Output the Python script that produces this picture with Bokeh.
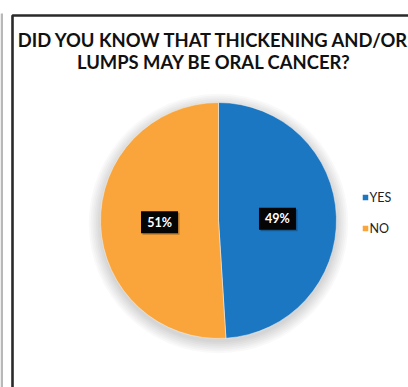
import math
from bokeh.plotting import figure
from bokeh.models import Range1d, ColumnDataSource
from bokeh.core.properties import value
from bokeh.embed import file_html
from bokeh.resources import INLINE

# Survey answers
categories = ["YES", "NO"]
percentages = [49, 51]
colors = ["#1C77C3", "#F9A53B"]
title_lines = ["DID YOU KNOW THAT THICKENING AND/OR", "LUMPS MAY BE ORAL CANCER?"]

W, H = 408, 387
p = figure(width=W, height=H, output_backend="svg", toolbar_location=None,
           x_range=Range1d(0, W), y_range=Range1d(0, H), min_border=0)
p.axis.visible = False
p.grid.visible = False
p.outline_line_color = None
p.background_fill_color = "white"
p.border_fill_color = "white"


def Y(y):
    # page-style y (downwards) to plot y
    return H - y


# frame around the chart
p.quad(left=[0], right=[2.5], bottom=[0], top=[Y(13)], fill_color="#b8b8b8", line_color=None)
p.line(x=[12, 12, W + 5], y=[-5, Y(15), Y(15)], line_color="#2a2a2a", line_width=2.6)

# title
font = value("Lato")
p.text(x=[213.5, 213.5], y=[Y(39.5), Y(61.5)], text=title_lines, text_font=font,
       text_font_style="bold", text_font_size="18.4px", text_color="#111111",
       text_align="center", text_baseline="middle")

# pie
cx, cy, r = 218, Y(220), 118
# soft shadow around the pie
for k in range(7):
    p.circle(x=[cx], y=[cy - 3], radius=r + 1 + k * 1.8, fill_color="#000000",
             fill_alpha=0.025, line_color=None)

total = sum(percentages)
cum = 0
starts, ends, mids = [], [], []
for v in percentages:
    a0 = cum / total * 2 * math.pi
    cum += v
    a1 = cum / total * 2 * math.pi
    # clockwise from 12 o'clock -> anticlockwise math angles
    starts.append(math.pi / 2 - a1)
    ends.append(math.pi / 2 - a0)
    mids.append((a0 + a1) / 2)

src = ColumnDataSource(dict(start=starts, end=ends, color=colors))
p.wedge(x=cx, y=cy, radius=r, start_angle="start", end_angle="end",
        fill_color="color", line_color="#f4f4f4", line_width=0.5, source=src)

# data labels: black boxes with white text
lx = [cx + 0.5 * r * math.sin(m) for m in mids]
ly = [cy + 0.5 * r * math.cos(m) for m in mids]
labels = [f"{v}%" for v in percentages]
p.rect(x=[x + 1.5 for x in lx], y=[y - 1.5 for y in ly], width=37, height=22,
       fill_color="#000000", fill_alpha=0.25, line_color=None)
p.rect(x=lx, y=ly, width=37, height=22, fill_color="#050505", line_color=None)
p.text(x=lx, y=ly, text=labels, text_font=font, text_font_style="bold",
       text_font_size="12.5px", text_color="white", text_align="center",
       text_baseline="middle")

# legend
leg_y = [Y(197), Y(228)]
p.rect(x=[365] * 2, y=leg_y, width=5.5, height=5.5, fill_color=colors, line_color=None)
p.text(x=[369] * 2, y=leg_y, text=categories, text_font=font,
       text_font_size="12.5px", text_color="#222222", text_align="left",
       text_baseline="middle")

open("out.html", "w").write(file_html(p, INLINE))
